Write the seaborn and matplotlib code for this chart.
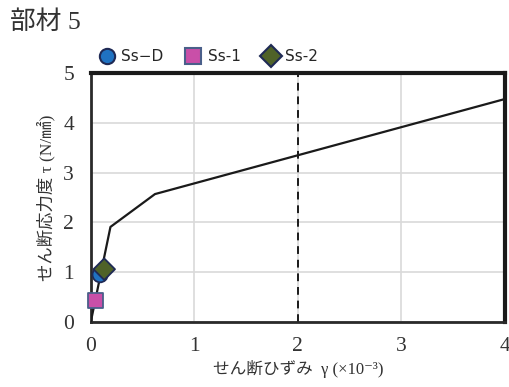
import matplotlib
matplotlib.use("Agg")
import matplotlib.pyplot as plt
import seaborn as sns
import pandas as pd

# 骨格曲線 (せん断ひずみ ×10^-3, せん断応力度 N/mm2)
curve_gamma = [0.0, 0.19, 0.62, 4.0]
curve_tau = [0.0, 1.91, 2.57, 4.48]

# 許容限界
limit_gamma = 2.0

# 地震波ごとの応答値
wave_names = ["Ss\u2212D", "Ss-1", "Ss-2"]
wave_gamma = [0.09, 0.045, 0.13]
wave_tau = [0.95, 0.43, 1.06]
wave_markers = ["o", "s", "D"]
wave_colors = ["#1f72c2", "#c94fa8", "#4f6228"]
wave_edges = ["#1f2a55", "#4a5f8a", "#1f2a55"]

sns.set_theme(style="white")
plt.rcParams["font.family"] = ["Liberation Serif", "Noto Sans CJK JP", "DejaVu Sans"]

fig = plt.figure(figsize=(5.1, 3.87), dpi=100)
ax = fig.add_axes([0.178, 0.168, 0.812, 0.643])

df_curve = pd.DataFrame({"gamma": curve_gamma, "tau": curve_tau})
sns.lineplot(data=df_curve, x="gamma", y="tau", color="#1a1a1a", linewidth=1.6,
             sort=False, ax=ax, zorder=3)
ax.axvline(limit_gamma, color="#1a1a1a", linestyle=(0, (4, 3)), linewidth=1.4, zorder=2)

df_wave = pd.DataFrame({"gamma": wave_gamma, "tau": wave_tau, "wave": wave_names})
sns.scatterplot(data=df_wave, x="gamma", y="tau", hue="wave", style="wave",
                markers=dict(zip(wave_names, wave_markers)),
                palette=dict(zip(wave_names, wave_colors)),
                s=120, edgecolor=wave_edges, linewidth=1.3, ax=ax, zorder=4,
                clip_on=False)

ax.set_xlim(0, 4)
ax.set_ylim(0, 5)
ax.set_xticks([0, 1, 2, 3, 4])
ax.set_yticks([0, 1, 2, 3, 4, 5])
ax.grid(True, color="#d9d9d9", linewidth=1.2)
ax.set_axisbelow(True)
ax.tick_params(axis="both", labelsize=15.5, length=0, labelcolor="#333333")
ax.tick_params(axis="x", pad=11)
ax.tick_params(axis="y", pad=12)

for side in ["top", "right"]:
    ax.spines[side].set_color("#1a1a1a")
    ax.spines[side].set_linewidth(3)
for side in ["left", "bottom"]:
    ax.spines[side].set_color("#2a2a2a")
    ax.spines[side].set_linewidth(2)

ax.set_xlabel("せん断ひずみ  γ (×10⁻³)", fontsize=12, labelpad=3, color="#333333")
ax.set_ylabel("せん断応力度 τ (N/㎟)", fontsize=12.5, labelpad=6, color="#333333")

fig.text(0.02, 0.943, "部材 5", fontsize=18.5, color="#333333", va="center")

handles, labels = ax.get_legend_handles_labels()
for h, ec in zip(handles, wave_edges):
    h.set_markersize(11)
    h.set_markeredgecolor(ec)
    h.set_markeredgewidth(1.5)
fig.legend(handles, labels, loc="center left", bbox_to_anchor=(0.19, 0.853),
           ncol=3, frameon=False, handletextpad=0.3, columnspacing=1.3,
           handlelength=1.3, borderpad=0, borderaxespad=0,
           prop={"family": "DejaVu Sans", "size": 11})
ax.get_legend().remove()

fig.savefig("out.png", dpi=100)
